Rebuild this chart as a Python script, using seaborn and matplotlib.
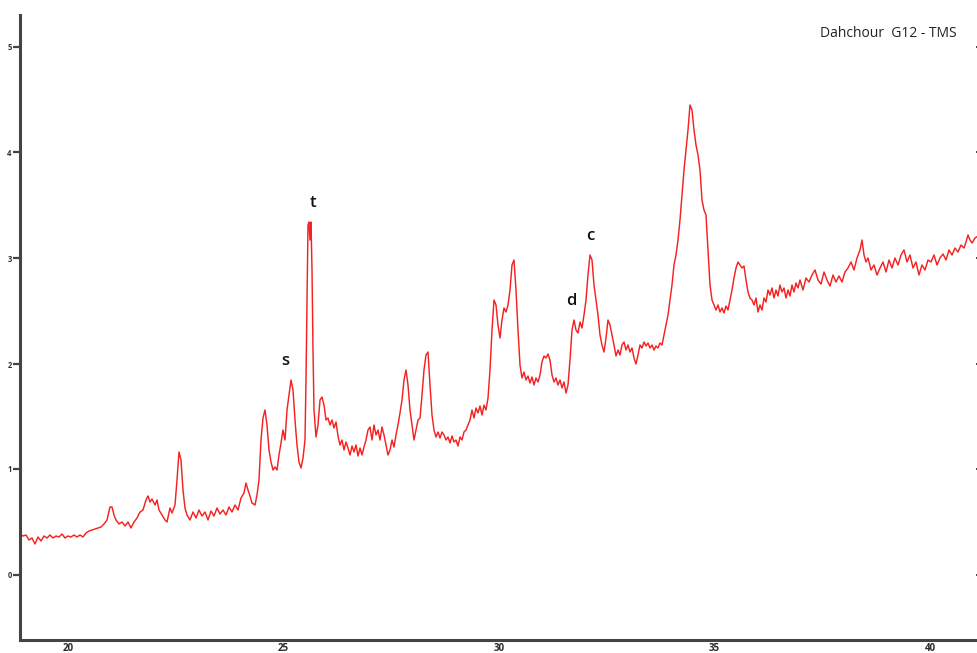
import numpy as np
import pandas as pd
import seaborn as sns
import matplotlib
matplotlib.use("Agg")
import matplotlib.pyplot as plt
import matplotlib.lines as mlines

# Total ion current trace, Dahchour G12 (TMS derivatives)
scan = [
    20, 23, 26, 29, 32, 35, 38, 41, 44, 47, 50, 53, 56, 59, 62, 65, 68, 71, 74, 77,
    80, 83, 86, 89, 92, 95, 98, 101, 104, 107, 110, 112,
    114, 116, 119, 122, 125, 128, 131, 134, 137, 140, 143, 146, 148, 150, 152, 155,
    157, 159, 162, 165, 167, 170, 172, 175, 177, 179, 181, 183, 185, 187,
    190, 193, 196, 199, 202, 205, 208, 211, 214, 217, 220, 223, 226, 229, 232, 235,
    238, 241, 244, 246, 248, 250, 252, 255, 257, 259,
    261, 263, 265, 267, 269, 271, 273, 275, 277, 279, 281, 283, 285, 287, 289, 291,
    293, 295, 297, 299, 301, 303, 305,
    306, 307, 308, 309, 310, 311, 312, 313, 314, 316,
    318, 320, 322, 324, 326, 328, 330, 332, 334, 336, 338, 340, 342, 344, 346, 348,
    350, 352, 354, 356, 358, 360, 362, 364, 366, 368, 370, 372, 374, 376, 378, 380,
    382, 384, 386, 388, 390, 392, 394, 396, 398,
    400, 402, 404, 406, 408, 410, 412, 414, 416, 418, 420, 422, 424, 426, 428, 430,
    432, 434, 436, 438, 440, 442, 444, 446, 448, 450, 452, 454, 456, 458, 460, 462,
    464, 466, 468, 470, 472, 474, 476, 478, 480, 482, 484, 486, 488,
    490, 492, 494, 496, 498, 500, 502, 504, 506, 508, 510, 512, 514, 516, 518, 520,
    522, 524, 526, 528, 530, 532, 534, 536, 538, 540, 542, 544, 546, 548, 550, 552,
    554, 556, 558, 560, 562, 564, 566, 568,
    570, 572, 574, 576, 578, 580, 582, 584, 586, 588, 590, 592, 594, 596, 598, 600,
    602, 604, 606, 608, 610, 612, 614, 616, 618, 620, 622, 624, 626, 628, 630, 632,
    634, 636, 638, 640, 642, 644, 646, 648, 650, 652, 654, 656, 658, 660, 662,
    664, 666, 668, 670, 672, 674, 676, 678, 680, 682, 684, 686, 688, 690, 692, 694,
    696, 698, 700, 702, 704, 706, 708, 710, 712, 714, 716, 718, 720, 722, 724, 726,
    728, 730, 732, 734, 736, 738, 740, 742, 744,
    746, 748, 750, 752, 754, 756, 758, 760, 762, 764, 766, 768, 770, 772, 774, 776,
    778, 780, 782, 784, 786, 788, 790, 792, 794, 796, 798, 800,
    803, 806, 809, 812, 815, 818, 821, 824, 827, 830, 833, 836, 839, 842, 845, 848,
    851, 854, 857, 860, 862, 864, 866, 868, 871, 874, 877, 880, 883, 886, 889, 892,
    895, 898, 901, 904, 907, 910, 913, 916, 919, 922, 925, 928, 931, 934, 937, 940,
    943, 946, 949, 952, 955, 958, 961, 964, 966, 968, 970, 972, 975, 978,
]

signal = [
    106, 104, 105, 100, 102, 96, 103, 99, 104, 102, 105, 102, 104, 103, 106, 102, 104, 103, 105, 103,
    105, 103, 107, 109, 110, 111, 112, 113, 116, 120, 133, 133,
    125, 120, 116, 118, 114, 118, 112, 118, 122, 128, 130, 140, 144, 138, 141, 135,
    140, 130, 125, 120, 118, 132, 127, 135, 160, 188, 180, 150, 132, 125,
    120, 128, 122, 130, 124, 128, 120, 129, 124, 132, 126, 130, 125, 133, 128, 135,
    130, 142, 147, 157, 150, 144, 137, 135, 145, 160,
    200, 222, 230, 215, 190, 178, 170, 173, 170, 185, 197, 210, 200, 230, 245, 260,
    250, 220, 195, 178, 172, 182, 200,
    260, 340, 415, 418, 400, 418, 370, 290, 230, 203,
    215, 240, 243, 235, 220, 222, 215, 220, 212, 218, 204, 195, 200, 190, 198, 192,
    185, 194, 188, 195, 184, 192, 185, 193, 200, 210, 213, 200, 215, 205, 210, 200,
    213, 205, 195, 185, 190, 200, 193, 205, 215,
    227, 240, 260, 270, 255, 230, 215, 200, 210, 220, 222, 245, 270, 285, 288, 255,
    225, 210, 203, 208, 202, 208, 205, 200, 203, 197, 204, 198, 200, 194, 203, 200,
    208, 210, 215, 220, 230, 222, 232, 227, 234, 225, 235, 230, 242,
    270, 310, 340, 335, 315, 302, 320, 332, 328, 335, 350, 375, 380, 350, 310, 275,
    262, 268, 260, 264, 257, 263, 255, 262, 258, 265, 278, 284, 282, 286, 280, 265,
    258, 262, 255, 260, 252, 258, 247, 255,
    280, 310, 320, 310, 307, 318, 312, 325, 340, 365, 385, 380, 355, 340, 325, 305,
    295, 288, 302, 320, 315, 305, 295, 284, 290, 285, 295, 298, 290, 295, 288, 292,
    282, 276, 285, 295, 292, 298, 294, 297, 292, 295, 290, 294, 292, 297, 295,
    305, 315, 325, 340, 355, 375, 385, 400, 420, 445, 470, 490, 510, 535, 530, 510,
    495, 485, 470, 440, 430, 425, 390, 355, 340, 335, 330, 335, 328, 332, 327, 334,
    330, 340, 350, 362, 372, 378, 375, 372, 374,
    360, 348, 342, 340, 335, 342, 328, 335, 330, 342, 338, 350, 345, 352, 342, 350,
    344, 355, 348, 352, 342, 350, 344, 355, 348, 357, 352, 360,
    350, 362, 358, 365, 370, 360, 356, 368, 360, 354, 365, 358, 364, 358, 368, 372,
    378, 370, 382, 390, 400, 385, 378, 382, 370, 375, 365, 372, 378, 368, 380, 372,
    382, 375, 385, 390, 378, 385, 372, 378, 365, 375, 370, 380, 378, 385, 375, 382,
    386, 380, 390, 385, 392, 388, 395, 392, 398, 405, 400, 397, 402, 404,
]

# Axis calibration (scan positions of the retention-time ticks, abundance ticks)
x_ticks = [68, 283.5, 499, 714.5, 930]
x_tick_labels = ["20", "25", "30", "35", "40"]
y_ticks = [65, 171, 276, 382, 488, 593]
y_tick_labels = ["0", "1", "2", "3", "4", "5"]

# Peak annotations: label, scan of apex
peak_labels = ["s", "t", "d", "c"]
peak_scans = [291, 309, 574, 590]

df = pd.DataFrame({"scan": scan, "signal": signal})

sns.set_style("white")
plt.rcParams["font.family"] = ["Open Sans", "DejaVu Sans"]

fig = plt.figure(figsize=(9.78, 6.53), dpi=100)
ax = fig.add_axes([20 / 978, 13 / 653, 958 / 978, 625 / 653])

sns.lineplot(data=df, x="scan", y="signal", sort=False, ax=ax,
             color="#f52222", linewidth=1.05)

ax.set_xlim(20, 978)
ax.set_ylim(0, 625)
ax.set_xlabel("")
ax.set_ylabel("")

ax.set_xticks(x_ticks)
ax.set_xticklabels(x_tick_labels, fontsize=7, fontweight="bold", color="#2a2a2a")
ax.set_yticks(y_ticks)
ax.set_yticklabels(y_tick_labels, fontsize=5.5, fontweight="bold", color="#333333")

for side in ("top", "right"):
    ax.spines[side].set_visible(False)
for side in ("left", "bottom"):
    ax.spines[side].set_color("#444444")
    ax.spines[side].set_linewidth(2.2)

ax.tick_params(axis="y", left=True, right=True, labelright=False, direction="out",
               length=5, width=1.6, color="#444444", pad=1)
# tiny inward marks on the right-hand edge
for t in ax.yaxis.get_major_ticks():
    t.tick2line.set_marker(mlines.TICKLEFT)
    t.tick2line.set_markersize(1.8)
    t.tick2line.set_markeredgewidth(1.4)
    t.tick2line.set_color("#666666")
ax.tick_params(axis="x", bottom=True, length=0, pad=2)

sig = dict(zip(scan, signal))
offsets = {"s": (-4, 8), "t": (3, 8), "d": (-2, 8), "c": (0, 8)}
for lab, sc in zip(peak_labels, peak_scans):
    ax.annotate(lab, xy=(sc, sig[sc]), xytext=offsets[lab], textcoords="offset points",
                ha="center", va="bottom", fontsize=12, fontweight="semibold",
                color="#111111")

ax.text(0.978, 0.971, "Dahchour  G12 - TMS", transform=ax.transAxes,
        ha="right", va="center", fontsize=10, color="#222222")

fig.savefig("out.png", dpi=100)
